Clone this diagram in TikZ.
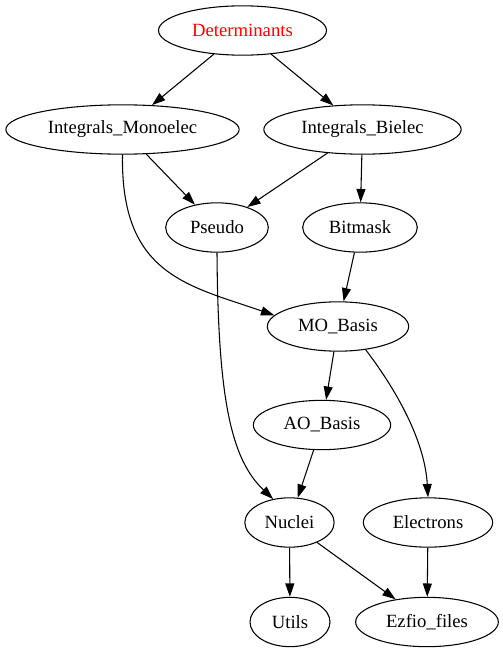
\documentclass[tikz,border=0pt]{standalone}
\usepackage{fontspec}
\setmainfont{Liberation Serif}
\usetikzlibrary{shapes,arrows.meta,calc}
\tikzstyle{line} = [draw, line width=0.8pt, -{Triangle[length=10pt,width=6.7pt]}]
\tikzstyle{module} = [draw, ellipse, line width=0.8pt, text centered, minimum height=37pt, inner sep=0pt, font=\fontsize{14}{16}\selectfont]

\begin{document}
\begin{tikzpicture}[x=0.75pt, y=-0.75pt]
        \useasboundingbox (0,0) rectangle (503,653);
        \node[module, text=red, minimum width=126pt] (det) at (242.5,30.5) {Determinants};
        \node[module, minimum width=175pt] (mono) at (122.5,129.5) {Integrals\_Monoelec};
        \node[module, minimum width=148pt] (bielec) at (362.5,129.5) {Integrals\_Bielec};
        \node[module, minimum width=77pt] (pseudo) at (217,227.5) {Pseudo};
        \node[module, minimum width=86pt] (bitmask) at (360,227.5) {Bitmask};
        \node[module, minimum width=106pt] (mo) at (338,326.5) {MO\_Basis};
        \node[module, minimum width=103pt] (ao) at (322,425) {AO\_Basis};
        \node[module, minimum width=67pt] (nuclei) at (289.5,522.5) {Nuclei};
        \node[module, minimum width=97pt] (elec) at (428,522.5) {Electrons};
        \node[module, minimum width=60pt] (utils) at (290,622) {Utils};
        \node[module, minimum width=107pt] (ezfio) at (427,622) {Ezfio\_files};
        \path[line] (det) -- (mono);
        \path[line] (det) -- (bielec);
        \path[line] (mono) -- (pseudo);
        \path[line] (mono.south) .. controls +(-2,120) and +(-87,-30) .. (mo.170);
        \path[line] (bielec) -- (pseudo);
        \path[line] (bielec) -- (bitmask);
        \path[line] (pseudo.south) .. controls +(1,147) and +(-42,-40) .. (nuclei.125);
        \path[line] (bitmask) -- (mo);
        \path[line] (mo) -- (ao);
        \path[line] (mo.-40) .. controls +(35,46) and +(-3,-53) .. (elec.north);
        \path[line] (ao) -- (nuclei);
        \path[line] (nuclei) -- (utils);
        \path[line] (nuclei) -- (ezfio);
        \path[line] (elec) -- (ezfio);
    \end{tikzpicture}
\end{document}
